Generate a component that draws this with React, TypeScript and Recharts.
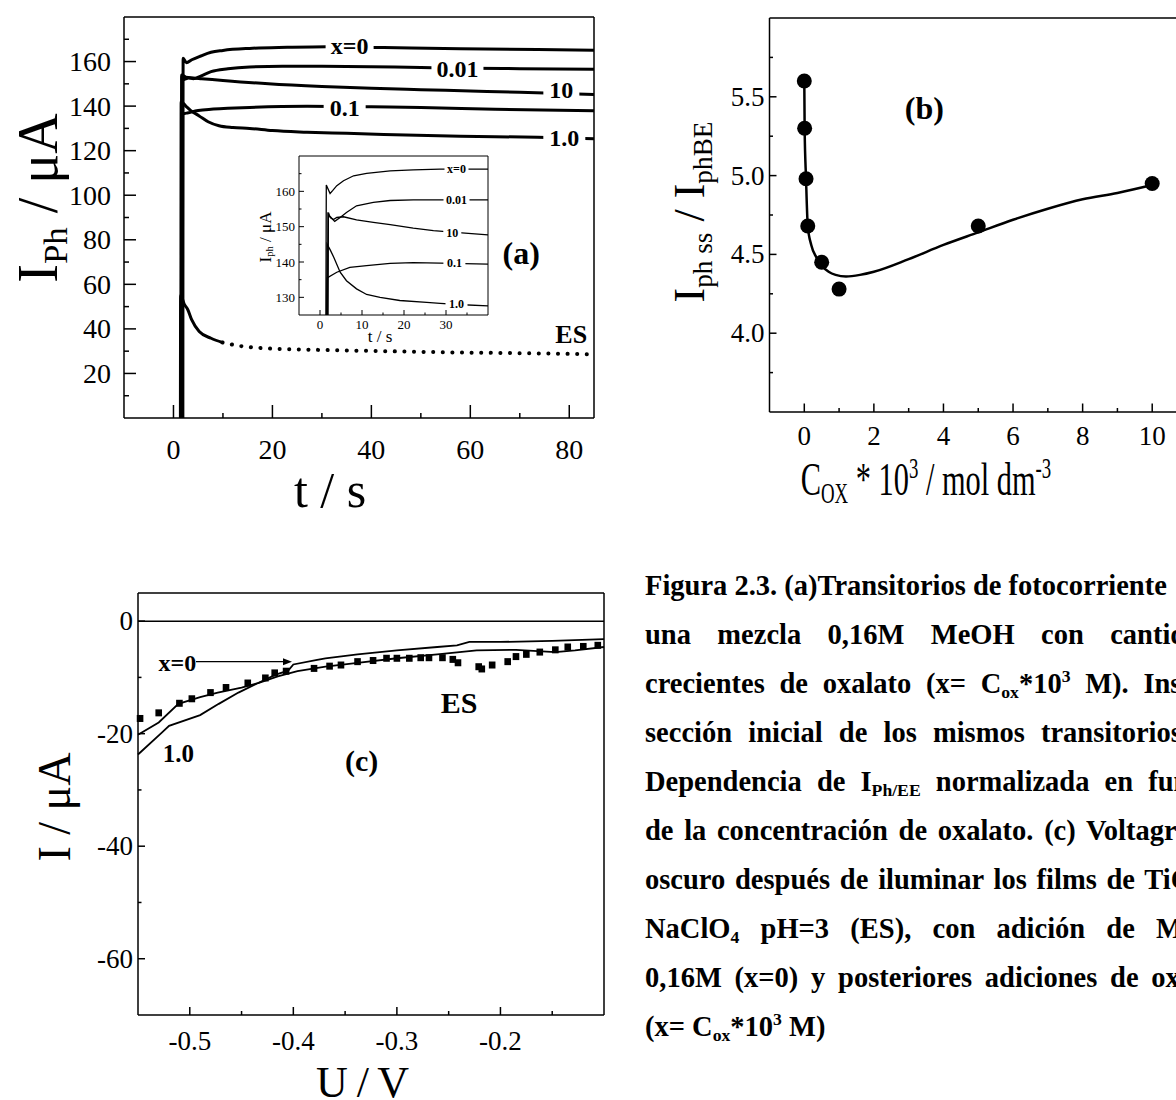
import React from 'react'
import { ComposedChart, Line, XAxis, YAxis, ReferenceLine, ReferenceDot } from 'recharts'

const FONT = '"Liberation Serif", "Times New Roman", Times, serif'

// ---------- panel (a): photocurrent transients, t / s vs I / uA
const aX0T = [1.9, 1.95, 2.6, 3.7, 5.5, 7.6, 10, 15.4, 23, 31, 42.5, 58, 73.6, 85]
const aX0I = [0, 161.5, 159.5, 160.8, 162.5, 164.2, 165, 165.9, 166.4, 166.7, 166.3, 165.8, 165.4, 165.1]
const a001T = [1.7, 1.75, 2.2, 3, 4, 5.5, 7.6, 11, 15.4, 22, 30, 40, 50, 60, 70, 85]
const a001I = [0, 153.5, 152, 152.6, 152.3, 153.5, 155.5, 156.8, 157.6, 157.9, 157.9, 157.7, 157.3, 157, 156.8, 156.5]
const a10T = [1.6, 1.65, 2.5, 4, 5.7, 10, 19.2, 30, 40, 50, 60, 70, 85]
const a10I = [0, 154, 153, 152.6, 152.3, 151.5, 150, 148.8, 148, 147.4, 146.8, 146.2, 145.2]
const a01T = [1.8, 1.85, 3, 5, 7.6, 11, 15.4, 27, 40, 50, 65, 85]
const a01I = [0, 136.4, 137, 138, 138.6, 139, 139.4, 139.9, 139.7, 139.4, 138.6, 137.9]
const a1T = [1.5, 1.55, 2.5, 3.5, 5.2, 7, 9.2, 12, 15.4, 20, 27, 35, 42.5, 58, 73.6, 85]
const a1I = [0, 142, 140, 138, 135.6, 133, 131.2, 130.4, 130, 129, 128.3, 127.8, 127.3, 126.5, 126, 125.3]
const aEsT = [1.4, 1.45, 2.2, 2.9, 3.7, 5.2, 7.6, 9.9]
const aEsI = [0, 55, 51, 48.6, 44, 38.8, 35.8, 33.9]
const aEsDotT = [9.9, 13, 19.2, 25, 30.9, 42.5, 58, 73.6, 85]
const aEsDotI = [33.9, 32.5, 31.2, 30.8, 30.5, 30, 29.4, 29, 28.6]

const aXTicks = [0, 10, 20, 30, 40, 50, 60, 70, 80]
const aXLabels = [0, 20, 40, 60, 80]
const aYTicks = [10, 20, 30, 40, 50, 60, 70, 80, 90, 100, 110, 120, 130, 140, 150, 160, 170]
const aYLabels = [20, 40, 60, 80, 100, 120, 140, 160]

// ---------- inset of (a)
const iX0T = [1.4, 1.5, 2.4, 3, 4, 5.6, 8, 11.1, 16.7, 22.2, 28.6, 35, 40]
const iX0I = [125, 161.8, 159.4, 160.2, 161.6, 163, 164.4, 165.1, 165.8, 166.1, 166.3, 166.3, 166.3]
const i001T = [1.9, 2.0, 2.3, 3.5, 4.8, 6.3, 8.7, 12.7, 16.7, 22.2, 28.6, 40]
const i001I = [125, 154, 153, 151.5, 152.6, 154, 155.9, 156.9, 157.4, 157.6, 157.6, 157.6]
const i10T = [1.8, 1.9, 2.5, 3.2, 4, 5.6, 8.7, 12.7, 16.7, 22.2, 27, 33, 40]
const i10I = [125, 153.6, 152.5, 152, 152.6, 152.8, 151.9, 151.2, 150.6, 149.6, 148.9, 148.3, 147.7]
const i01T = [1.6, 1.7, 4, 7.1, 11.1, 16.7, 22.2, 28.6, 40]
const i01I = [125, 135.5, 137.1, 138.5, 139, 139.6, 139.8, 139.7, 139.4]
const i1T = [1.6, 1.7, 2.4, 3.3, 4.8, 6.3, 8.7, 11.1, 14.3, 19, 25.4, 28.6, 34, 40]
const i1I = [125, 145, 143.5, 141.3, 137.1, 134.7, 132.4, 130.8, 130, 129.1, 128.6, 128.3, 127.9, 127.6]

const iXTicks = [0, 5, 10, 15, 20, 25, 30, 35]
const iXLabels = [0, 10, 20, 30]
const iYTicks = [130, 135, 140, 145, 150, 155, 160, 165]
const iYLabels = [130, 140, 150, 160]

// ---------- panel (b): normalised steady photocurrent vs oxalate
const bCox = [0, 0.01, 0.05, 0.1, 0.5, 1, 5, 10]
const bRatio = [5.6, 5.3, 4.98, 4.68, 4.45, 4.28, 4.68, 4.95]
const bFitX = [0, 0.01, 0.05, 0.1, 0.2, 0.35, 0.5, 0.7, 0.9, 1.2, 1.6, 2, 3, 4, 5, 6, 7, 8, 9, 10]
const bFitY = [5.6, 5.3, 4.98, 4.68, 4.56, 4.48, 4.43, 4.39, 4.37, 4.36, 4.37, 4.39, 4.47, 4.56, 4.64, 4.72, 4.79, 4.85, 4.89, 4.94]

const bXTicks = [0, 1, 2, 3, 4, 5, 6, 7, 8, 9, 10]
const bXLabels = [0, 2, 4, 6, 8, 10]
const bYTicks = [3.75, 4, 4.25, 4.5, 4.75, 5, 5.25, 5.5, 5.75]
const bYLabels = [4, 4.5, 5, 5.5]

// ---------- panel (c): dark voltammograms
const cX0U = [-0.55, -0.53, -0.511, -0.49, -0.473, -0.45, -0.434, -0.417, -0.405, -0.4, -0.377, -0.369, -0.338, -0.3, -0.261, -0.242, -0.23, -0.2, -0.15, -0.1]
const cX0I = [-20.2, -18.0, -14.7, -13.5, -12.7, -11.8, -11.0, -9.5, -8.8, -7.7, -6.9, -6.6, -5.9, -5.2, -4.6, -4.3, -3.7, -3.7, -3.5, -3.2]
const c1U = [-0.55, -0.527, -0.52, -0.49, -0.472, -0.453, -0.434, -0.415, -0.396, -0.369, -0.338, -0.3, -0.261, -0.223, -0.185, -0.147, -0.128, -0.1]
const c1I = [-23.7, -19.8, -18.6, -16.7, -14.7, -12.7, -11.0, -9.8, -8.9, -8.1, -7.4, -6.6, -5.9, -5.2, -5.1, -5.5, -5.2, -4.6]
const cEsU = [-0.548, -0.53, -0.51, -0.498, -0.48, -0.465, -0.444, -0.427, -0.418, -0.407, -0.38, -0.365, -0.354, -0.338, -0.323, -0.31, -0.3, -0.288, -0.277, -0.269, -0.256, -0.246, -0.241, -0.221, -0.218, -0.208, -0.193, -0.185, -0.175, -0.162, -0.147, -0.135, -0.12, -0.106]
const cEsI = [-17.3, -16.3, -14.6, -13.8, -12.7, -11.8, -11.0, -10.1, -9.2, -8.9, -8.4, -8.0, -7.8, -7.2, -7.0, -6.6, -6.6, -6.6, -6.5, -6.5, -6.5, -6.8, -7.4, -8.1, -8.5, -7.8, -7.2, -6.3, -5.9, -5.5, -5.1, -4.6, -4.5, -4.3]
const cArrowU = [-0.494, -0.41]
const cArrowI = [-7.2, -7.2]

const cXTicks = [-0.5, -0.45, -0.4, -0.35, -0.3, -0.25, -0.2, -0.15]
const cXLabels = [-0.5, -0.4, -0.3, -0.2]
const cYTicks = [-60, -50, -40, -30, -20, -10, 0]
const cYLabels = [-60, -40, -20, 0]

const pts = (xs: number[], ys: number[]) => xs.map((x, i) => ({ x, y: ys[i] }))

type TickCfg = {
  side: 'left' | 'bottom'
  labels: number[]
  fmt: (v: number) => string
  size: number
  major: number
  minor: number
  gap: number
  sw?: number
}

const makeTick = (c: TickCfg) => (props: any) => {
  const { x, y, payload } = props
  const v = payload.value
  const isMajor = c.labels.some((l) => Math.abs(l - v) < 1e-9)
  const len = isMajor ? c.major : c.minor
  const sw = c.sw ?? 1.5
  if (c.side === 'bottom') {
    return (
      <g>
        <line x1={x} x2={x} y1={y} y2={y - len} stroke="#000" strokeWidth={sw} />
        {isMajor && (
          <text x={x} y={y + c.gap} textAnchor="middle" dominantBaseline="central" fontSize={c.size} fontFamily={FONT} fill="#000">
            {c.fmt(v)}
          </text>
        )}
      </g>
    )
  }
  return (
    <g>
      <line x1={x} x2={x + len} y1={y} y2={y} stroke="#000" strokeWidth={sw} />
      {isMajor && (
        <text x={x - c.gap} y={y} textAnchor="end" dominantBaseline="central" fontSize={c.size} fontFamily={FONT} fill="#000">
          {c.fmt(v)}
        </text>
      )}
    </g>
  )
}

const Tag = (p: any) => {
  const { cx, cy, text, size, w, bg = true } = p
  return (
    <g>
      {bg && <rect x={cx - w / 2} y={cy - size * 0.4} width={w} height={size * 0.8} fill="#fff" />}
      <text x={cx} y={cy} textAnchor="middle" dominantBaseline="central" fontSize={size} fontWeight="bold" fontFamily={FONT} fill="#000">
        {text}
      </text>
    </g>
  )
}

const tag = (text: string, size: number, w: number, bg = true) => (p: any) => <Tag {...p} text={text} size={size} w={w} bg={bg} />

const Sub = ({ children }: any) => (
  <span style={{ fontSize: '0.62em', verticalAlign: '-0.28em', lineHeight: 0 }}>{children}</span>
)
const Sup = ({ children }: any) => (
  <span style={{ fontSize: '0.62em', verticalAlign: '0.6em', lineHeight: 0 }}>{children}</span>
)

const Title = ({ x, y, size, rotate = false, children, spacing = 0, squeeze = 1 }: any) => (
  <div
    style={{
      position: 'absolute',
      left: x,
      top: y,
      transform: `translate(-50%, -50%)${rotate ? ' rotate(-90deg)' : ''}${squeeze !== 1 ? ` scaleX(${squeeze})` : ''}`,
      fontSize: size,
      fontFamily: FONT,
      whiteSpace: 'nowrap',
      lineHeight: 1,
      letterSpacing: spacing,
      color: '#000',
    }}
  >
    {children}
  </div>
)

const axisLine = { stroke: '#000', strokeWidth: 1.5 }
const f0 = (v: number) => String(v)
const f1 = (v: number) => v.toFixed(1)

function PanelA() {
  return (
    <div style={{ position: 'absolute', left: 0, top: 0 }}>
      <ComposedChart width={600} height={500} margin={{ top: 17, right: 6, left: 0, bottom: 0 }}>
        <XAxis dataKey="x" type="number" domain={[-10, 85]} ticks={aXTicks} interval={0} height={82} tickLine={false} tickSize={0} tickMargin={0} axisLine={axisLine}
          tick={makeTick({ side: 'bottom', labels: aXLabels, fmt: f0, size: 28, major: 13, minor: 5, gap: 31 })} />
        <YAxis dataKey="y" type="number" domain={[0, 180]} ticks={aYTicks} interval={0} width={124} tickLine={false} tickSize={0} tickMargin={0} axisLine={axisLine}
          tick={makeTick({ side: 'left', labels: aYLabels, fmt: f0, size: 28, major: 12, minor: 5, gap: 13 })} />
        <ReferenceLine y={180} stroke="#000" strokeWidth={1.5} />
        <ReferenceLine x={85} stroke="#000" strokeWidth={1.5} />
        <Line data={pts(aEsT, aEsI)} dataKey="y" type="monotone" stroke="#000" strokeWidth={3} dot={false} isAnimationActive={false} />
        <Line data={pts(aEsDotT, aEsDotI)} dataKey="y" type="monotone" stroke="#000" strokeWidth={4} strokeDasharray="0.1 9.5" strokeLinecap="round" dot={false} isAnimationActive={false} />
        <Line data={pts(a1T, a1I)} dataKey="y" type="monotone" stroke="#000" strokeWidth={3} dot={false} isAnimationActive={false} />
        <Line data={pts(a10T, a10I)} dataKey="y" type="monotone" stroke="#000" strokeWidth={3} dot={false} isAnimationActive={false} />
        <Line data={pts(a001T, a001I)} dataKey="y" type="monotone" stroke="#000" strokeWidth={3} dot={false} isAnimationActive={false} />
        <Line data={pts(a01T, a01I)} dataKey="y" type="monotone" stroke="#000" strokeWidth={3} dot={false} isAnimationActive={false} />
        <Line data={pts(aX0T, aX0I)} dataKey="y" type="monotone" stroke="#000" strokeWidth={3} dot={false} isAnimationActive={false} />
        <ReferenceDot x={35.6} y={167} r={0} shape={tag('x=0', 24, 48)} />
        <ReferenceDot x={57.4} y={156.5} r={0} shape={tag('0.01', 24, 52)} />
        <ReferenceDot x={78.4} y={147.2} r={0} shape={tag('10', 24, 36)} />
        <ReferenceDot x={34.6} y={139.2} r={0} shape={tag('0.1', 24, 42)} />
        <ReferenceDot x={79} y={125.8} r={0} shape={tag('1.0', 24, 42)} />
        <ReferenceDot x={80.4} y={37.3} r={0} shape={tag('ES', 26, 0, false)} />
        <ReferenceDot x={70.3} y={74} r={0} shape={tag('(a)', 32, 0, false)} />
      </ComposedChart>
      <Title x={38} y={198} size={56} rotate>
        I<Sub>Ph</Sub> / μA
      </Title>
      <Title x={330} y={490} size={50}>t / s</Title>
    </div>
  )
}

function Inset() {
  return (
    <div style={{ position: 'absolute', left: 240, top: 140 }}>
      <ComposedChart width={260} height={200} margin={{ top: 16, right: 12, left: 0, bottom: 0 }}>
        <XAxis dataKey="x" type="number" domain={[-5, 40]} ticks={iXTicks} interval={0} height={25} tickLine={false} tickSize={0} tickMargin={0} axisLine={{ stroke: '#000', strokeWidth: 1 }}
          tick={makeTick({ side: 'bottom', labels: iXLabels, fmt: f0, size: 13, major: 5, minor: 2.5, gap: 9, sw: 1 })} />
        <YAxis dataKey="y" type="number" domain={[125, 170]} ticks={iYTicks} interval={0} width={59} tickLine={false} tickSize={0} tickMargin={0} axisLine={{ stroke: '#000', strokeWidth: 1 }}
          tick={makeTick({ side: 'left', labels: iYLabels, fmt: f0, size: 13, major: 5, minor: 2.5, gap: 4, sw: 1 })} />
        <ReferenceLine y={170} stroke="#000" strokeWidth={1} />
        <ReferenceLine x={40} stroke="#000" strokeWidth={1} />
        <Line data={pts(i1T, i1I)} dataKey="y" type="linear" stroke="#000" strokeWidth={1.3} dot={false} isAnimationActive={false} />
        <Line data={pts(i10T, i10I)} dataKey="y" type="linear" stroke="#000" strokeWidth={1.3} dot={false} isAnimationActive={false} />
        <Line data={pts(i001T, i001I)} dataKey="y" type="linear" stroke="#000" strokeWidth={1.3} dot={false} isAnimationActive={false} />
        <Line data={pts(i01T, i01I)} dataKey="y" type="linear" stroke="#000" strokeWidth={1.3} dot={false} isAnimationActive={false} />
        <Line data={pts(iX0T, iX0I)} dataKey="y" type="linear" stroke="#000" strokeWidth={1.3} dot={false} isAnimationActive={false} />
        <ReferenceDot x={32.5} y={166.3} r={0} shape={tag('x=0', 12, 24)} />
        <ReferenceDot x={32.5} y={157.6} r={0} shape={tag('0.01', 12, 26)} />
        <ReferenceDot x={31.5} y={148.3} r={0} shape={tag('10', 12, 18)} />
        <ReferenceDot x={32} y={139.6} r={0} shape={tag('0.1', 12, 22)} />
        <ReferenceDot x={32.5} y={128.1} r={0} shape={tag('1.0', 12, 22)} />
      </ComposedChart>
      <Title x={25} y={97} size={17} rotate>
        I<Sub>ph</Sub> / μA
      </Title>
      <Title x={140} y={196} size={17}>t / s</Title>
    </div>
  )
}

function PanelB() {
  return (
    <div style={{ position: 'absolute', left: 640, top: 0 }}>
      <ComposedChart width={560} height={500} margin={{ top: 18, right: 13, left: 0, bottom: 0 }}>
        <XAxis dataKey="x" type="number" domain={[-1, 11]} ticks={bXTicks} interval={0} height={88} tickLine={false} tickSize={0} tickMargin={0} axisLine={axisLine}
          tick={makeTick({ side: 'bottom', labels: bXLabels, fmt: f0, size: 27, major: 8.5, minor: 4, gap: 24 })} />
        <YAxis dataKey="y" type="number" domain={[3.5, 6]} ticks={bYTicks} interval={0} width={129.5} tickLine={false} tickSize={0} tickMargin={0} axisLine={axisLine}
          tick={makeTick({ side: 'left', labels: bYLabels, fmt: f1, size: 27, major: 7, minor: 3.5, gap: 5 })} />
        <ReferenceLine y={6} stroke="#000" strokeWidth={1.5} />
        <Line data={pts(bFitX, bFitY)} dataKey="y" type="monotone" stroke="#000" strokeWidth={2.5} dot={false} isAnimationActive={false} />
        <Line data={pts(bCox, bRatio)} dataKey="y" stroke="none" dot={{ r: 7.5, fill: '#000', stroke: 'none' }} isAnimationActive={false} />
        <ReferenceDot x={3.45} y={5.43} r={0} shape={tag('(b)', 32, 0, false)} />
      </ComposedChart>
      <Title x={50} y={212} size={44} rotate>
        I<Sub>ph ss</Sub> / I<Sub>phBE</Sub>
      </Title>
      <Title x={286} y={480} size={46} squeeze={0.66}>
        C<Sub>OX</Sub> * 10<Sup>3</Sup> / mol dm<Sup>-3</Sup>
      </Title>
    </div>
  )
}

function PanelC() {
  return (
    <div style={{ position: 'absolute', left: 0, top: 540 }}>
      <ComposedChart width={610} height={560} margin={{ top: 53, right: 6, left: 0, bottom: 0 }}>
        <XAxis dataKey="x" type="number" domain={[-0.55, -0.1]} ticks={cXTicks} interval={0} height={85} tickLine={false} tickSize={0} tickMargin={0} axisLine={axisLine}
          tick={makeTick({ side: 'bottom', labels: cXLabels, fmt: f1, size: 27, major: 8, minor: 4, gap: 26 })} />
        <YAxis dataKey="y" type="number" domain={[-70, 5]} ticks={cYTicks} interval={0} width={138} tickLine={false} tickSize={0} tickMargin={0} axisLine={axisLine}
          tick={makeTick({ side: 'left', labels: cYLabels, fmt: f0, size: 27, major: 7, minor: 3.5, gap: 5 })} />
        <ReferenceLine y={5} stroke="#000" strokeWidth={1.5} />
        <ReferenceLine x={-0.1} stroke="#000" strokeWidth={1.5} />
        <ReferenceLine y={0} stroke="#000" strokeWidth={1.5} />
        <Line data={pts(cEsU, cEsI)} dataKey="y" stroke="none"
          dot={(p: any) => <rect key={p.index} x={p.cx - 3.3} y={p.cy - 3.5} width={6.6} height={7} fill="#000" />}
          isAnimationActive={false} />
        <Line data={pts(c1U, c1I)} dataKey="y" type="linear" stroke="#000" strokeWidth={1.8} dot={false} isAnimationActive={false} />
        <Line data={pts(cX0U, cX0I)} dataKey="y" type="linear" stroke="#000" strokeWidth={1.8} dot={false} isAnimationActive={false} />
        <Line data={pts(cArrowU, cArrowI)} dataKey="y" type="linear" stroke="#000" strokeWidth={1.3} dot={false} isAnimationActive={false} />
        <ReferenceDot x={cArrowU[1]} y={cArrowI[1]} r={0}
          shape={(p: any) => <polygon points={`${p.cx + 9},${p.cy} ${p.cx},${p.cy - 3.5} ${p.cx},${p.cy + 3.5}`} fill="#000" />} />
        <ReferenceDot x={-0.512} y={-7.5} r={0} shape={tag('x=0', 24, 0, false)} />
        <ReferenceDot x={-0.24} y={-14.4} r={0} shape={tag('ES', 30, 0, false)} />
        <ReferenceDot x={-0.511} y={-23.6} r={0} shape={tag('1.0', 25, 0, false)} />
        <ReferenceDot x={-0.334} y={-24.8} r={0} shape={tag('(c)', 30, 0, false)} />
      </ComposedChart>
      <Title x={55} y={267} size={46} rotate>I / μA</Title>
      <Title x={362} y={543} size={44} spacing={-1}>U / V</Title>
    </div>
  )
}

const lineStyle: React.CSSProperties = { textAlign: 'justify', textAlignLast: 'justify' }

function Caption() {
  return (
    <div
      style={{
        position: 'absolute',
        left: 645,
        top: 561,
        width: 595,
        fontSize: 28.5,
        fontWeight: 'bold',
        lineHeight: '49px',
        fontFamily: FONT,
        color: '#000',
      }}
    >
      <div style={{ whiteSpace: 'nowrap' }}>Figura 2.3. (a)Transitorios de fotocorriente</div>
      <div style={lineStyle}>una mezcla 0,16M MeOH con cantidades</div>
      <div style={lineStyle}>
        crecientes de oxalato (x= C<Sub>ox</Sub>*10<Sup>3</Sup> M). Inserto:
      </div>
      <div style={lineStyle}>sección inicial de los mismos transitorios. (b)</div>
      <div style={lineStyle}>
        Dependencia de I<Sub>Ph/EE</Sub> normalizada en función
      </div>
      <div style={lineStyle}>de la concentración de oxalato. (c) Voltagramas</div>
      <div style={lineStyle}>
        oscuro después de iluminar los films de TiO<Sub>2</Sub> en
      </div>
      <div style={lineStyle}>
        NaClO<Sub>4</Sub> pH=3 (ES), con adición de MeOH
      </div>
      <div style={lineStyle}>0,16M (x=0) y posteriores adiciones de oxalato</div>
      <div>
        (x= C<Sub>ox</Sub>*10<Sup>3</Sup> M)
      </div>
    </div>
  )
}

export default function App() {
  return (
    <div
      style={{
        position: 'absolute',
        left: 0,
        top: 0,
        width: 1176,
        height: 1100,
        overflow: 'hidden',
        background: '#fff',
        fontFamily: FONT,
      }}
    >
      <PanelA />
      <Inset />
      <PanelB />
      <PanelC />
      <Caption />
    </div>
  )
}
